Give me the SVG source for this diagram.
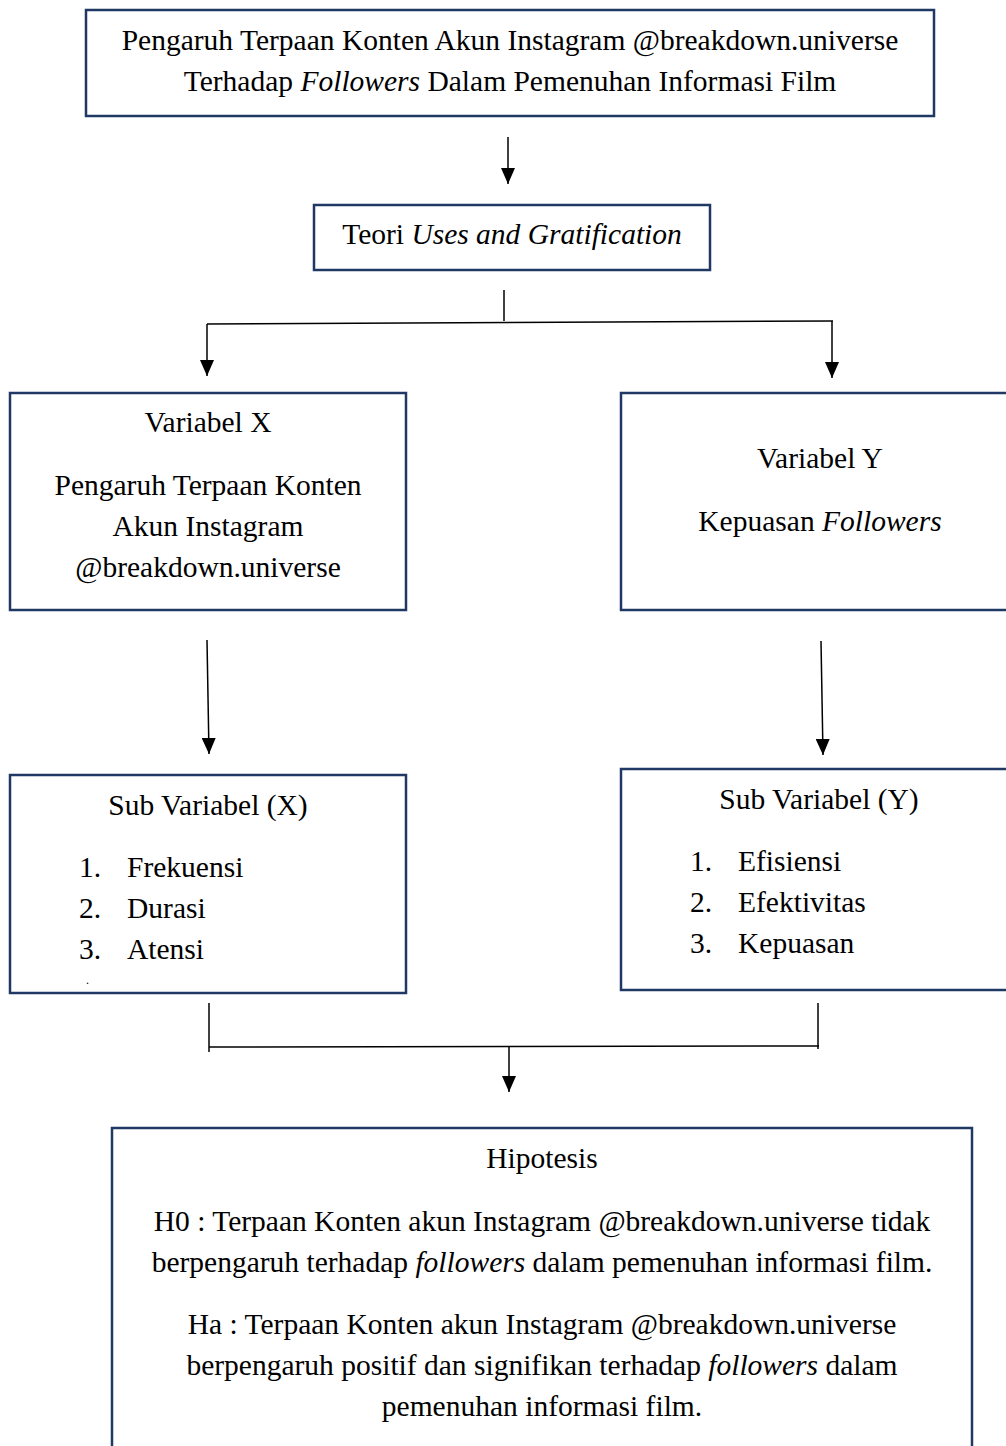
<svg xmlns="http://www.w3.org/2000/svg" width="1006" height="1446" viewBox="0 0 1006 1446">
<style>
.box{fill:#fff;stroke:#1f3864;stroke-width:2.5}
text{font-family:"Liberation Serif","Times New Roman",serif;font-size:29.5px;fill:#000}
.c{text-anchor:middle}
.i{font-style:italic}
.ln{stroke:#000;stroke-width:1.5;fill:none}
</style>
<defs>
<marker id="ahd" markerUnits="userSpaceOnUse" markerWidth="16" markerHeight="14" refX="16" refY="7" orient="auto" viewBox="0 0 16 14">
<path d="M0,0 L16,7 L0,14 Z" fill="#000"/>
</marker>
</defs>
<rect width="1006" height="1446" fill="#fff"/>

<g id="connectors">
<line class="ln" x1="508" y1="137" x2="508" y2="184" marker-end="url(#ahd)"/>
<line class="ln" x1="504" y1="290" x2="504" y2="321"/>
<line class="ln" x1="207" y1="324" x2="833" y2="321"/>
<line class="ln" x1="207" y1="324" x2="207" y2="376" marker-end="url(#ahd)"/>
<line class="ln" x1="832" y1="321" x2="832" y2="378" marker-end="url(#ahd)"/>
<line class="ln" x1="207" y1="640" x2="209" y2="754" marker-end="url(#ahd)"/>
<line class="ln" x1="821" y1="641" x2="823" y2="755" marker-end="url(#ahd)"/>
<line class="ln" x1="209" y1="1003" x2="209" y2="1052"/>
<line class="ln" x1="209" y1="1047" x2="819" y2="1046"/>
<line class="ln" x1="818" y1="1003" x2="818" y2="1049"/>
<line class="ln" x1="509" y1="1046" x2="509" y2="1092" marker-end="url(#ahd)"/>
</g>

<g id="judul">
<rect class="box" x="86" y="10" width="848" height="106"/>
<text class="c" x="510" y="50">Pengaruh Terpaan Konten Akun Instagram @breakdown.universe</text>
<text class="c" x="510" y="91">Terhadap <tspan class="i">Followers</tspan> Dalam Pemenuhan Informasi Film</text>
</g>

<g id="teori">
<rect class="box" x="314" y="205" width="396" height="65"/>
<text class="c" x="512" y="244">Teori <tspan class="i">Uses and Gratification</tspan></text>
</g>

<g id="variabel-x">
<rect class="box" x="10" y="393" width="396" height="217"/>
<text class="c" x="208" y="432">Variabel X</text>
<text class="c" x="208" y="495">Pengaruh Terpaan Konten</text>
<text class="c" x="208" y="536">Akun Instagram</text>
<text class="c" x="208" y="577">@breakdown.universe</text>
</g>

<g id="variabel-y">
<rect class="box" x="621" y="393" width="400" height="217"/>
<text class="c" x="820" y="468">Variabel Y</text>
<text class="c" x="820" y="531">Kepuasan <tspan class="i">Followers</tspan></text>
</g>

<g id="sub-x">
<rect class="box" x="10" y="775" width="396" height="218"/>
<text class="c" x="208" y="815">Sub Variabel (X)</text>
<text x="79" y="877">1.</text><text x="127" y="877">Frekuensi</text>
<text x="79" y="918">2.</text><text x="127" y="918">Durasi</text>
<text x="79" y="959">3.</text><text x="127" y="959">Atensi</text>
<text x="86" y="984" style="font-size:12px">.</text>
</g>

<g id="sub-y">
<rect class="box" x="621" y="769" width="400" height="221"/>
<text class="c" x="819" y="809">Sub Variabel (Y)</text>
<text x="690" y="871">1.</text><text x="738" y="871">Efisiensi</text>
<text x="690" y="912">2.</text><text x="738" y="912">Efektivitas</text>
<text x="690" y="953">3.</text><text x="738" y="953">Kepuasan</text>
</g>

<g id="hipotesis">
<rect class="box" x="112" y="1128" width="860" height="340"/>
<text class="c" x="542" y="1168">Hipotesis</text>
<text class="c" x="542" y="1231">H0 : Terpaan Konten akun Instagram @breakdown.universe tidak</text>
<text class="c" x="542" y="1272">berpengaruh terhadap <tspan class="i">followers</tspan> dalam pemenuhan informasi film.</text>
<text class="c" x="542" y="1334">Ha : Terpaan Konten akun Instagram @breakdown.universe</text>
<text class="c" x="542" y="1375">berpengaruh positif dan signifikan terhadap <tspan class="i">followers</tspan> dalam</text>
<text class="c" x="542" y="1416">pemenuhan informasi film.</text>
</g>
</svg>
